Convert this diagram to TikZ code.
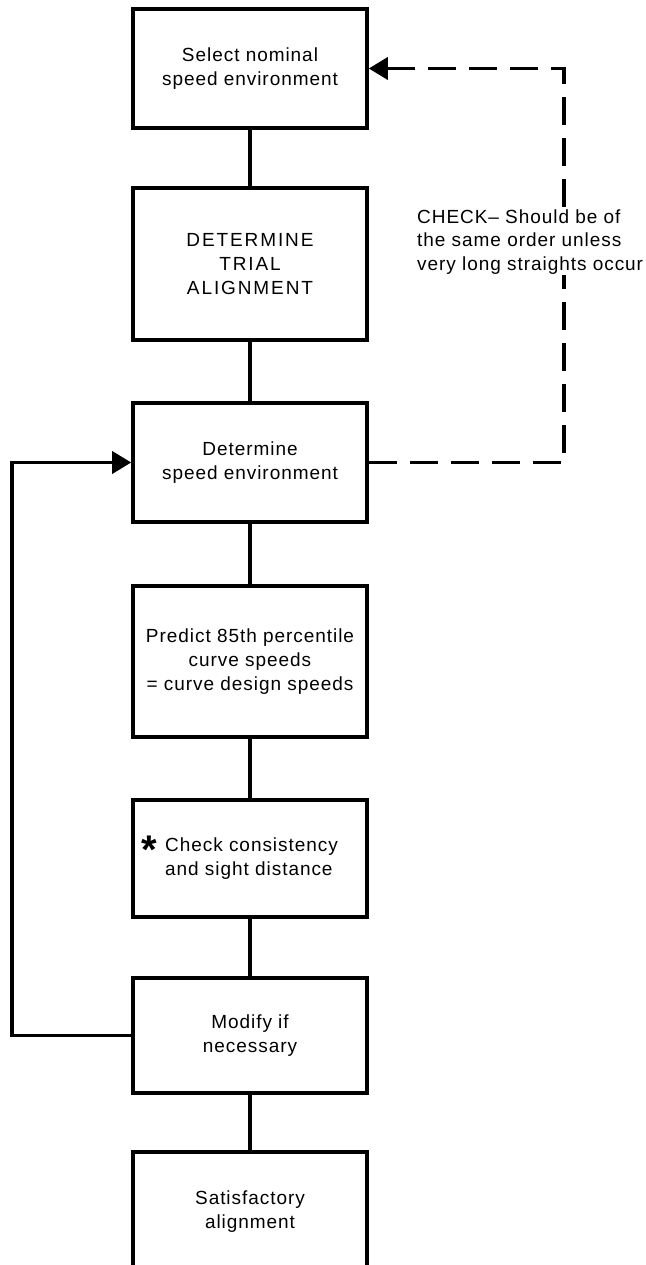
\documentclass[tikz,border=0pt]{standalone}
\usepackage{fontspec}
\setmainfont{Liberation Sans}[LetterSpace=5]
\newfontfamily\capsfont{Liberation Sans}[LetterSpace=10]
\usetikzlibrary{arrows.meta}

\begin{document}
\begin{tikzpicture}[x=1pt,y=-1pt,
  box/.style={draw,line width=3.6pt,minimum width=234pt,align=center,inner sep=0pt,
              font=\fontsize{19}{24}\selectfont},
  link/.style={line width=3.6pt},
  dashlink/.style={line width=3.6pt,dash pattern=on 28pt off 13pt},
  tip/.style={-{Triangle[length=19pt,width=22pt]}}]
 \useasboundingbox (0,0) rectangle (645,1265);
 \clip (0,0) rectangle (645,1265);
 % flow boxes
 \node[box,minimum height=119pt] (select) at (250,68.5) {Select nominal\\speed environment};
 \node[box,minimum height=152pt,font=\capsfont\fontsize{19}{24}\selectfont] (trial) at (250,264) {DETERMINE\\TRIAL\\ALIGNMENT};
 \node[box,minimum height=119pt] (speed) at (250,462.5) {Determine\\speed environment};
 \node[box,minimum height=151pt] (predict) at (250,661.5) {Predict 85th percentile\\curve speeds\\= curve design speeds};
 \node[box,minimum height=117pt,align=left] (check) at (250,858.5) {\hspace{3pt}Check consistency\\\hspace{3pt}and sight distance};
 \node[anchor=base,inner sep=0pt,font=\bfseries\fontsize{40}{40}\selectfont] (star) at (149,863) {*};
 \node[box,minimum height=115pt] (modify) at (250,1035.5) {Modify if\\necessary};
 \node[box,minimum height=119pt] (satis) at (250,1211.5) {Satisfactory\\alignment};
 \foreach \a/\b in {select/trial,trial/speed,speed/predict,predict/check,check/modify,modify/satis}
   \draw[link] (\a) -- (\b);
 % loop back and check
 \coordinate (loopx) at (12,0);
 \coordinate (chkx) at (564,0);
 \draw[link,tip] (modify.west) -| (loopx |- speed.west) -- (speed.west);
 \draw[dashlink,tip] (speed.east) -| (chkx |- select.east) -- (select.east);
 \node[anchor=west,align=left,fill=white,inner sep=1pt,font=\fontsize{19}{23.5}\selectfont] (chknote) at (416,242)
   {CHECK\textendash{} Should be of\\the same order unless\\very long straights occur};
\end{tikzpicture}
\end{document}
